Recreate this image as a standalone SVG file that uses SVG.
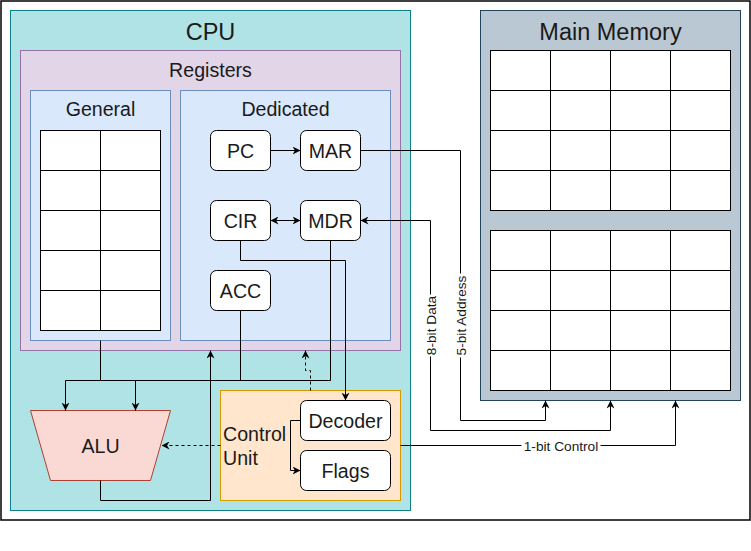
<svg xmlns="http://www.w3.org/2000/svg" width="751" height="551" viewBox="0 0 751 551">
<style>
text{font-family:"Liberation Sans",Arial,sans-serif;fill:#1a1a1a}
.big{font-size:23.5px}
.mid{font-size:19.6px}
.lbl{font-size:13.7px}
.cell{fill:#fff;stroke:#000;stroke-width:1}
.reg{fill:#fff;stroke:#000;stroke-width:1}
.con{fill:none;stroke:#000;stroke-width:1}
.dash{stroke-dasharray:3,3}
</style>
<defs>
<marker id="arr" viewBox="0 0 10 10" refX="10" refY="5" markerWidth="8" markerHeight="8" markerUnits="userSpaceOnUse" orient="auto-start-reverse">
<path d="M0,0 L10,5 L0,10 L3,5 z" fill="#000"/>
</marker>
</defs>
<rect x="0" y="0" width="751" height="551" fill="#fff"/>
<g transform="translate(0.5,0.5)">
<rect id="frame" x="0.5" y="0.5" width="749" height="519" fill="#fff" stroke="#000" stroke-width="1.5"/>

<g id="cpu">
<rect x="10" y="10" width="400" height="500" fill="#b0e3e6" stroke="#0e8088"/>
<text class="big" x="210" y="39" text-anchor="middle">CPU</text>
</g>

<g id="registers">
<rect x="20" y="50" width="380" height="300" fill="#e1d5e7" stroke="#9673a6"/>
<text class="mid" x="210" y="76" text-anchor="middle">Registers</text>
</g>

<g id="general">
<rect x="30" y="90" width="140" height="250" fill="#dae8fc" stroke="#6c8ebf"/>
<text class="mid" x="100" y="115.5" text-anchor="middle">General</text>
<rect class="cell" x="40" y="130" width="120" height="200"/>
<path class="con" d="M100,130V330M40,170H160M40,210H160M40,250H160M40,290H160"/>
</g>

<g id="dedicated">
<rect x="180" y="90" width="210" height="250" fill="#dae8fc" stroke="#6c8ebf"/>
<text class="mid" x="285" y="115.5" text-anchor="middle">Dedicated</text>
</g>

<g id="pc"><rect class="reg" x="210" y="130" width="60" height="40" rx="6"/><text class="mid" x="240" y="157" text-anchor="middle">PC</text></g>
<g id="mar"><rect class="reg" x="300" y="130" width="60" height="40" rx="6"/><text class="mid" x="330" y="157" text-anchor="middle">MAR</text></g>
<g id="cir"><rect class="reg" x="210" y="200" width="60" height="40" rx="6"/><text class="mid" x="240" y="227" text-anchor="middle">CIR</text></g>
<g id="mdr"><rect class="reg" x="300" y="200" width="60" height="40" rx="6"/><text class="mid" x="330" y="227" text-anchor="middle">MDR</text></g>
<g id="acc"><rect class="reg" x="210" y="270" width="60" height="40" rx="6"/><text class="mid" x="240" y="297" text-anchor="middle">ACC</text></g>

<g id="alu">
<path d="M30,410H170L150,480H50Z" fill="#fad9d5" stroke="#ae4132"/>
<text class="mid" x="100" y="452" text-anchor="middle">ALU</text>
</g>

<g id="control-unit">
<rect x="220" y="390" width="180" height="110" fill="#ffe6cc" stroke="#d79b00"/>
<text class="mid" x="222.5" y="440.5">Control</text>
<text class="mid" x="222.5" y="464.5">Unit</text>
</g>
<g id="decoder"><rect class="reg" x="300" y="400" width="90" height="40" rx="6"/><text class="mid" x="345" y="427" text-anchor="middle">Decoder</text></g>
<g id="flags"><rect class="reg" x="300" y="450" width="90" height="40" rx="6"/><text class="mid" x="345" y="477" text-anchor="middle">Flags</text></g>

<g id="main-memory">
<rect x="480" y="10" width="260" height="390" fill="#bac8d3" stroke="#23445d"/>
<text class="big" x="610" y="39" text-anchor="middle">Main Memory</text>
<rect class="cell" x="490" y="50" width="240" height="160"/>
<path class="con" d="M550,50V210M610,50V210M670,50V210M490,90H730M490,130H730M490,170H730"/>
<rect class="cell" x="490" y="230" width="240" height="160"/>
<path class="con" d="M550,230V390M610,230V390M670,230V390M490,270H730M490,310H730M490,350H730"/>
</g>

<g id="connectors">
<path class="con" d="M270,150H300" marker-end="url(#arr)"/>
<path class="con" d="M270,220H300" marker-start="url(#arr)" marker-end="url(#arr)"/>
<path class="con" d="M240,240V260H345V400" marker-end="url(#arr)"/>
<path class="con" d="M100,340V380H65V410" marker-end="url(#arr)"/>
<path class="con" d="M100,380H135V410" marker-end="url(#arr)"/>
<path class="con" d="M330,240V380H135"/>
<path class="con" d="M240,310V380"/>
<path class="con" d="M100,480V500H210V350" marker-end="url(#arr)"/>
<path class="con dash" d="M310,390V370H305V350" marker-end="url(#arr)"/>
<path class="con dash" d="M220,445H161" marker-end="url(#arr)"/>
<path class="con" d="M300,420H290V470H300" marker-end="url(#arr)"/>
<path class="con" d="M360,150H460V420H545V400" marker-end="url(#arr)"/>
<path class="con" d="M360,220H430V430H610V400" marker-start="url(#arr)" marker-end="url(#arr)"/>
<path class="con" d="M400,445H675V400" marker-end="url(#arr)"/>
<rect x="453" y="273" width="14" height="84" fill="#fff"/>
<text class="lbl" transform="translate(460,315) rotate(-90)" x="0" y="5" text-anchor="middle">5-bit Address</text>
<rect x="423" y="294" width="14" height="62" fill="#fff"/>
<text class="lbl" transform="translate(430,325) rotate(-90)" x="0" y="5" text-anchor="middle">8-bit Data</text>
<rect x="521" y="438" width="79" height="14" fill="#fff"/>
<text class="lbl" x="560.5" y="450" text-anchor="middle">1-bit Control</text>
</g>
</g>
</svg>
